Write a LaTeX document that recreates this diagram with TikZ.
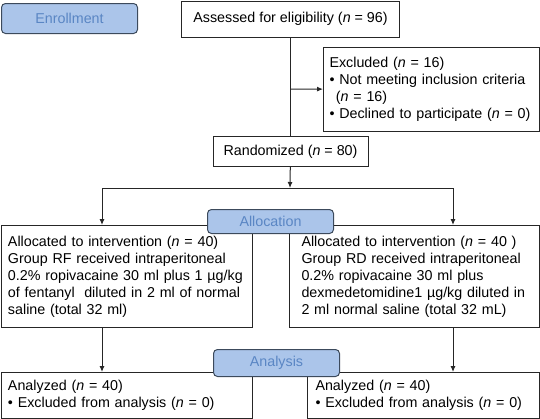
\documentclass[tikz,border=0pt]{standalone}
\usepackage{fontspec}
\setmainfont{Liberation Sans}
\usetikzlibrary{arrows.meta}

\definecolor{stagefill}{HTML}{ABC5EA}
\definecolor{stagetext}{HTML}{5A86C4}
\definecolor{stageline}{HTML}{3C4A5C}
\definecolor{boxline}{HTML}{262626}

\begin{document}
\begin{tikzpicture}[>={Latex[length=6pt,width=5pt]},x=1pt,y=-1pt,line width=1pt,
                    font=\fontsize{14.3}{17}\selectfont]
  \tikzstyle{box}=[rectangle,draw=boxline,text=black,align=left,anchor=north west,inner xsep=7pt,inner ysep=0pt]
  \tikzstyle{stage}=[rectangle,rounded corners=4pt,draw=stageline,fill=stagefill,text=stagetext,anchor=north west,inner sep=0pt]
  \tikzstyle{link}=[draw=boxline,line width=1pt]

  \useasboundingbox (0,0) rectangle (540,418);

  % enrollment
  \node[stage,minimum width=136pt,minimum height=30pt] (enroll) at (1,3) {Enrollment};
  \node[box,align=center,minimum width=218pt,minimum height=36.5pt] (assess) at (181,0.5) {Assessed for eligibility (\textit{n} = 96)};
  \node[box,inner xsep=6pt,text width=204pt,minimum height=84pt] (excl) at (323,47)
       {Excluded (\textit{n} = 16)\\
        • Not meeting inclusion criteria\\
        \hspace*{0.45em}(\textit{n} = 16)\\
        • Declined to participate (\textit{n} = 0)};
  \node[box,align=center,minimum width=155pt,minimum height=30pt] (random) at (212.5,136) {Randomized (\textit{n} = 80)};

  % allocation
  \node[box,text width=237.5pt,minimum height=102pt] (grpRF) at (0.5,225)
       {Allocated to intervention (\textit{n} = 40)\\
        Group RF received intraperitoneal\\
        0.2\% ropivacaine 30 ml plus 1 µg/kg\\
        of fentanyl~ diluted in 2 ml of normal\\
        saline (total 32 ml)};
  \node[box,inner xsep=12pt,text width=226pt,minimum height=102pt] (grpRD) at (289,225)
       {Allocated to intervention (\textit{n} = 40 )\\
        Group RD received intraperitoneal\\
        0.2\% ropivacaine 30 ml plus\\
        dexmedetomidine1 µg/kg diluted in\\
        2 ml normal saline (total 32 mL)};

  % analysis
  \node[box,text width=237.5pt,minimum height=45.5pt] (anaRF) at (0.5,372)
       {Analyzed (\textit{n} = 40)\\
        • Excluded from analysis (\textit{n} = 0)};
  \node[box,inner xsep=8pt,text width=215.5pt,minimum height=45.5pt] (anaRD) at (307,372)
       {Analyzed (\textit{n} = 40)\\
        • Excluded from analysis (\textit{n} = 0)};

  \node[stage,minimum width=126pt,minimum height=24pt] (alloc) at (207,209) {Allocation};
  \node[stage,minimum width=126pt,minimum height=27pt] (analysis) at (213,349) {Analysis};

  \coordinate (split) at (290,89);
  \coordinate (fork) at (290,188);
  \coordinate (forkRF) at (102,188);
  \coordinate (forkRD) at (453,188);

  \draw[link] (assess) -- (random);
  \draw[link,->] (split) -- (excl);
  \draw[link,->] (random) -- (fork);
  \draw[link] (forkRF) -- (forkRD);
  \draw[link,->] (forkRF) -- (forkRF |- grpRF.north);
  \draw[link,->] (forkRD) -- (forkRD |- grpRD.north);
  \draw[link,->] (forkRF |- grpRF.south) -- (forkRF |- anaRF.north);
  \draw[link,->] (forkRD |- grpRD.south) -- (forkRD |- anaRD.north);
\end{tikzpicture}
\end{document}
